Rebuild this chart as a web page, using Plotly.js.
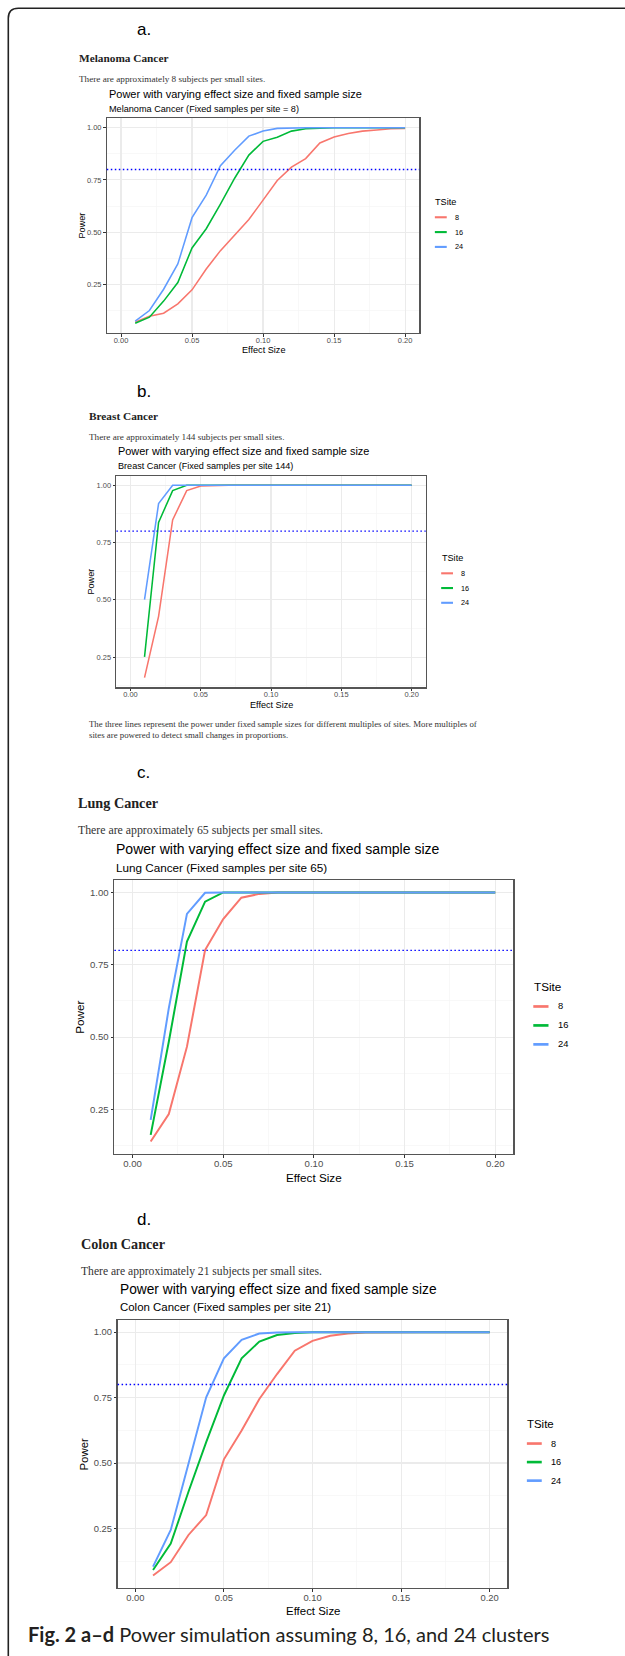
<!DOCTYPE html>
<html><head><meta charset="utf-8">
<script src="https://cdn.plot.ly/plotly-3.0.1.min.js"></script>
<style>html,body{margin:0;padding:0;background:#fff}#chart{width:625px;height:1656px}</style>
</head><body><div id="chart"></div>
<script>
// ---------- data ----------
const effectSize = [0.01,0.02,0.03,0.04,0.05,0.06,0.07,0.08,0.09,0.10,0.11,0.12,0.13,0.14,0.15,0.16,0.17,0.18,0.19,0.20];
const siteGroups = ['8','16','24'];
const seriesColors = ['#F8766D','#00BA38','#619CFF'];
const xTickVals = [0,0.05,0.10,0.15,0.20];
const xTickText = ['0.00','0.05','0.10','0.15','0.20'];
const yTickVals = [0.25,0.50,0.75,1.00];
const yTickText = ['0.25','0.50','0.75','1.00'];
const powerThreshold = 0.8;

const melanoma8  = [0.068,0.097,0.111,0.156,0.223,0.323,0.411,0.484,0.560,0.653,0.747,0.811,0.852,0.927,0.956,0.973,0.984,0.989,0.995,0.997];
const melanoma16 = [0.063,0.092,0.169,0.258,0.424,0.516,0.634,0.758,0.869,0.935,0.955,0.984,0.995,0.998,1,1,1,1,1,1];
const melanoma24 = [0.073,0.124,0.226,0.347,0.569,0.677,0.818,0.892,0.960,0.984,0.997,1,1,1,1,1,1,1,1,1];

const breast8  = [0.160,0.428,0.849,0.977,0.997,1,1,1,1,1,1,1,1,1,1,1,1,1,1,1];
const breast16 = [0.251,0.838,0.977,1,1,1,1,1,1,1,1,1,1,1,1,1,1,1,1,1];
const breast24 = [0.501,0.920,1,1,1,1,1,1,1,1,1,1,1,1,1,1,1,1,1,1];

const lung8  = [0.139,0.234,0.467,0.801,0.908,0.982,0.995,1,1,1,1,1,1,1,1,1,1,1,1,1];
const lung16 = [0.162,0.484,0.830,0.968,1,1,1,1,1,1,1,1,1,1,1,1,1,1,1,1];
const lung24 = [0.214,0.600,0.926,0.999,1,1,1,1,1,1,1,1,1,1,1,1,1,1,1,1];

const colon8  = [0.070,0.121,0.225,0.301,0.514,0.624,0.745,0.840,0.929,0.967,0.986,0.995,0.999,1,1,1,1,1,1,1];
const colon16 = [0.091,0.192,0.390,0.580,0.758,0.900,0.964,0.989,0.997,1,1,1,1,1,1,1,1,1,1,1];
const colon24 = [0.104,0.244,0.497,0.751,0.900,0.971,0.995,0.999,1,1,1,1,1,1,1,1,1,1,1,1];

const plotTitle = 'Power with varying effect size and fixed sample size';
const xTitle = 'Effect Size';
const yTitle = 'Power';
const legendTitle = 'TSite';
const breastNote = 'The three lines represent the power under fixed sample sizes for different multiples of sites. More multiples of<br>sites are powered to detect small changes in proportions.';
const figCaption = '<b>Fig. 2 a–d</b> Power simulation assuming 8, 16, and 24 clusters';

// ---------- layout helpers ----------
const W = 625, H = 1656;
const fx = x => x / W;
const fy = y => 1 - y / H;
const SANS = 'Liberation Sans, Arial, sans-serif';
const SERIF = 'Liberation Serif, Times New Roman, serif';

const panels = [
  {power:[melanoma8,melanoma16,melanoma24], box:[106.8,118,419.3,333], base:9.15, xStand:-3,
   label:'a.', labelY:30, header:'Melanoma Cancer', headerSize:11.3, textX:77, headerY:58.3,
   sentence:'There are approximately 8 subjects per small sites.', sentY:79.3, sentSize:9.2,
   subtitle:'Melanoma Cancer (Fixed samples per site = 8)', titleY:94.3, subY:109, xTitleY:350, yTitleX:81},
  {power:[breast8,breast16,breast24], box:[116.4,475.7,425.7,687.3], base:9.1, xStand:-3,
   label:'b.', labelY:392, header:'Breast Cancer', headerSize:11.3, textX:86.5, headerY:416,
   sentence:'There are approximately 144 subjects per small sites.', sentY:437, sentSize:9.2,
   subtitle:'Breast Cancer (Fixed samples per site 144)', titleY:451, subY:466, xTitleY:705, yTitleX:91},
  {power:[lung8,lung16,lung24], box:[114.4,880,513.4,1154], base:11.7, xStand:-2,
   label:'c.', labelY:773, header:'Lung Cancer', headerSize:14.2, textX:75.7, headerY:803,
   sentence:'There are approximately 65 subjects per small sites.', sentY:830, sentSize:11.8,
   subtitle:'Lung Cancer (Fixed samples per site 65)', titleY:849, subY:867, xTitleY:1177, yTitleX:79.7},
  {power:[colon8,colon16,colon24], box:[117.6,1320,507.4,1587.7], base:11.45, xStand:-2,
   label:'d.', labelY:1219, header:'Colon Cancer', headerSize:14.2, textX:79, headerY:1244,
   sentence:'There are approximately 21 subjects per small sites.', sentY:1271, sentSize:11.6,
   subtitle:'Colon Cancer (Fixed samples per site 21)', titleY:1289, subY:1307, xTitleY:1610.7, yTitleX:83.7}
];

const traces = [];
const shapes = [];
const annotations = [];
const layout = {
  width: W, height: H,
  margin: {l:0, r:0, t:0, b:0},
  paper_bgcolor: '#ffffff', plot_bgcolor: '#ffffff',
  showlegend: false,
  font: {family: SANS, color: '#000'}
};

function ann(text, x, y, size, opts) {
  annotations.push(Object.assign({
    text: text, xref:'paper', yref:'paper', x: fx(x), y: fy(y),
    xanchor:'left', yanchor:'middle', showarrow:false,
    font:{family:SANS, size:size, color:'#000'}
  }, opts || {}));
}

panels.forEach((p, i) => {
  const n = i === 0 ? '' : String(i + 1);
  const xa = 'x' + n, ya = 'y' + n;
  const [l, t, r, b] = p.box;
  const all = [].concat(...p.power);
  const lo = Math.min(...all), hi = Math.max(...all);
  const pad = 0.05 * (hi - lo);
  const xlo = Math.min(0, ...effectSize), xhi = Math.max(...effectSize);
  const xpad = 0.05 * (xhi - xlo);
  const tickSize = 0.82 * p.base;
  const lw = 0.17 * p.base;

  const axCommon = {
    showline:true, mirror:true, linecolor:'#555555', linewidth:1.2,
    ticks:'outside', ticklen:2.6, tickwidth:1, tickcolor:'#333333',
    gridcolor:'#EBEBEB', gridwidth:1.1, zeroline:false,
    tickfont:{family:SANS, size:tickSize, color:'#4D4D4D'}, fixedrange:true
  };
  layout['xaxis' + n] = Object.assign({}, axCommon, {
    domain:[fx(l), fx(r)], anchor: ya, range:[xlo - xpad, xhi + xpad],
    tickmode:'array', tickvals:xTickVals, ticktext:xTickText, ticklabelstandoff: p.xStand,
    minor:{tickmode:'linear', tick0:0, dtick:0.025, showgrid:true, gridcolor:'#F5F5F5', gridwidth:0.7, ticklen:0}
  });
  layout['yaxis' + n] = Object.assign({}, axCommon, {
    domain:[fy(b), fy(t)], anchor: xa, range:[lo - pad, hi + pad],
    tickmode:'array', tickvals:yTickVals, ticktext:yTickText,
    minor:{tickmode:'linear', tick0:0, dtick:0.125, showgrid:true, gridcolor:'#F5F5F5', gridwidth:0.7, ticklen:0}
  });

  // threshold line
  shapes.push({type:'line', xref: xa + ' domain', yref: ya, x0:0, x1:1, y0:powerThreshold, y1:powerThreshold,
    line:{color:'#0000FF', width:1.3, dash:'1.5px,2.5px'}, layer:'above'});

  // series
  p.power.forEach((vals, k) => {
    traces.push({type:'scatter', mode:'lines', x: effectSize, y: vals, xaxis: xa, yaxis: ya,
      name: siteGroups[k], line:{color: seriesColors[k], width: lw}, hoverinfo:'skip'});
  });

  // titles
  ann(plotTitle, l, p.titleY, 1.2 * p.base);
  ann(p.subtitle, l, p.subY, p.base);
  ann(xTitle, (l + r) / 2, p.xTitleY, p.base, {xanchor:'center'});
  ann(yTitle, p.yTitleX, (t + b) / 2, p.base, {xanchor:'center', textangle:-90});

  // legend
  const cy = (t + b) / 2;
  const lx = r + 1.55 * p.base;
  ann(legendTitle, lx, cy - 2.6 * p.base, p.base);
  siteGroups.forEach((g, k) => {
    const ey = cy - 0.9 * p.base + k * 1.62 * p.base;
    shapes.push({type:'line', xref:'paper', yref:'paper', x0: fx(lx + 0.15 * p.base), x1: fx(lx + 1.45 * p.base),
      y0: fy(ey), y1: fy(ey), line:{color: seriesColors[k], width: 1.35 * lw}});
    ann(g, lx + 2.08 * p.base, ey, 0.8 * p.base, {font:{family:SANS, size:0.8 * p.base, color:'#000'}});
  });

  // document text above panel
  ann(p.label, 135, p.labelY, 17);
  ann('<b>' + p.header + '</b>', p.textX, p.headerY, p.headerSize,
      {font:{family:SERIF, size:p.headerSize, color:'#222'}});
  ann(p.sentence, p.textX, p.sentY, p.sentSize, {font:{family:SERIF, size:p.sentSize, color:'#333'}});
});

// note under panel b
ann(breastNote, 86.5, 729, 8.8, {font:{family:SERIF, size:8.8, color:'#333'}, align:'left'});

// figure caption
ann(figCaption, 26, 1634, 20, {font:{family:'Lato, Noto Sans, sans-serif', size:20, color:'#231F20'}});

// figure frame (top and left edges, rounded corner)
const fl = 8.3, ft = 8.3, rad = 10;
shapes.push({type:'path', xref:'paper', yref:'paper',
  path: 'M ' + fx(fl) + ',' + fy(H) + ' L ' + fx(fl) + ',' + fy(ft + rad) +
        ' Q ' + fx(fl) + ',' + fy(ft) + ' ' + fx(fl + rad) + ',' + fy(ft) +
        ' L ' + fx(W) + ',' + fy(ft),
  line:{color:'#222222', width:1.6}});

layout.shapes = shapes;
layout.annotations = annotations;

Plotly.newPlot('chart', traces, layout, {displayModeBar:false, staticPlot:true});
</script>
</body></html>
